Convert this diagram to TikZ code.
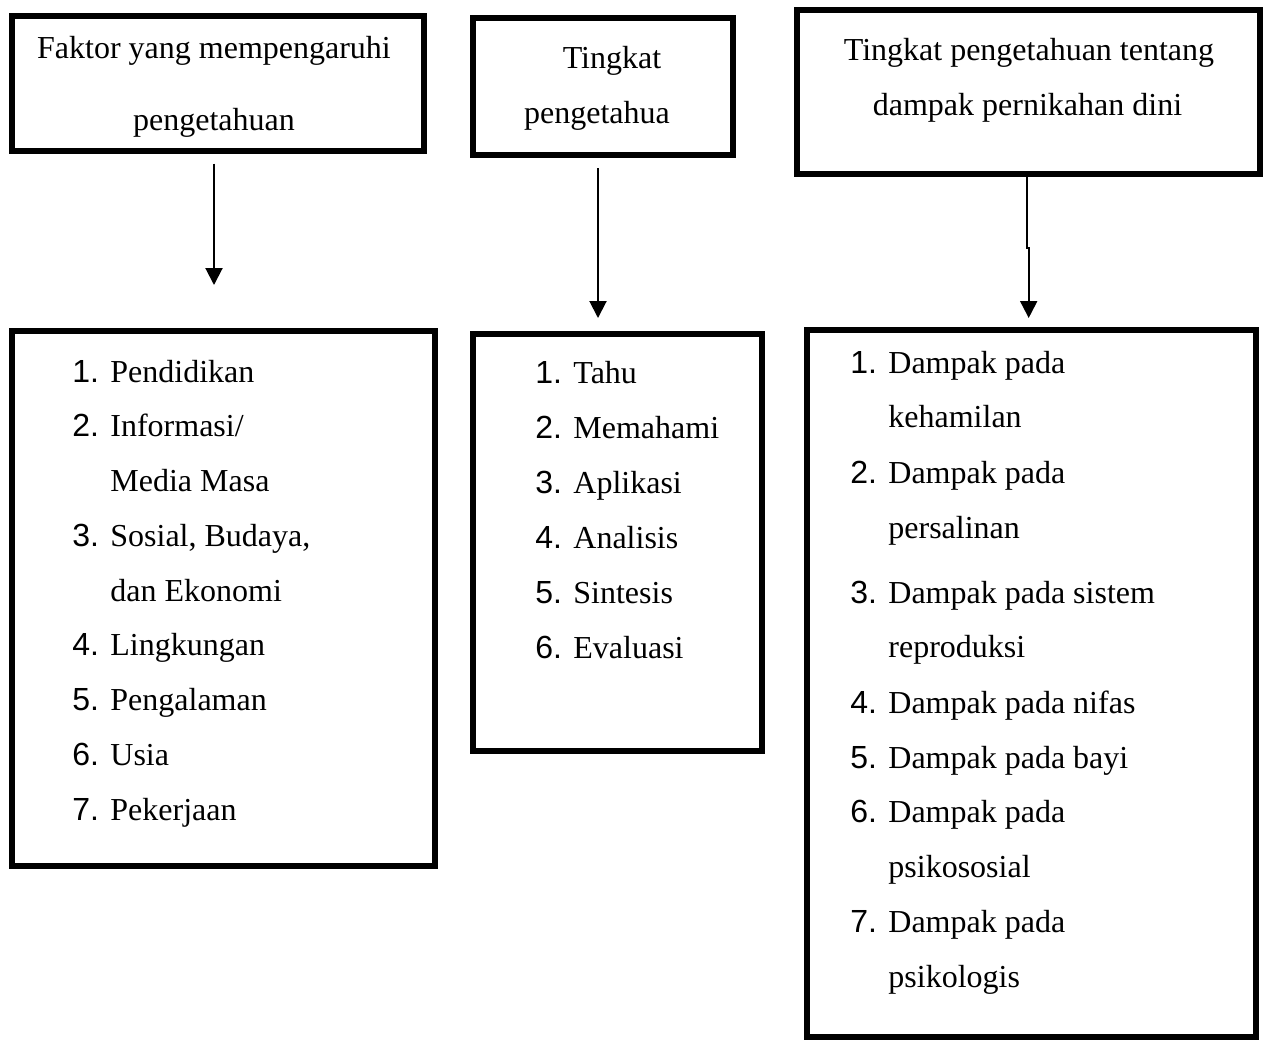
\documentclass[tikz,border=0pt]{standalone}
\usepackage{fontspec}
\setmainfont{Liberation Serif}
\newfontfamily\numfont{Liberation Sans}
\usetikzlibrary{arrows.meta}
\begin{document}
\begin{tikzpicture}[x=0.5pt,y=-0.5pt,
  box/.style={draw=black,line width=3pt,rectangle,inner sep=0pt,fill=white},
  ttl/.style={anchor=base,inner sep=0pt,font=\fontsize{16}{19}\selectfont},
  num/.style={anchor=base west,inner sep=0pt,font=\fontsize{16}{19}\selectfont\numfont},
  itm/.style={anchor=base west,inner sep=0pt,font=\fontsize{16}{19}\selectfont},
  arr/.style={line width=1pt,-{Triangle[length=8.5pt,width=8.5pt]}}]
\useasboundingbox (0,0) rectangle (1263,1041);
% boxes
\node[box,minimum width=412*0.5pt,minimum height=135*0.5pt] (a1) at (217.5,83) {};
\node[box,minimum width=260*0.5pt,minimum height=137*0.5pt] (b1) at (603,86.5) {};
\node[box,minimum width=462.5*0.5pt,minimum height=164.5*0.5pt] (c1) at (1028.25,91.75) {};
\node[box,minimum width=423.5*0.5pt,minimum height=535*0.5pt] (a2) at (223.25,598.5) {};
\node[box,minimum width=289*0.5pt,minimum height=417*0.5pt] (b2) at (617.5,542.5) {};
\node[box,minimum width=449*0.5pt,minimum height=707*0.5pt] (c2) at (1031.5,683.5) {};
% titles
\node[ttl] (a1l1) at (214,58) {Faktor yang mempengaruhi};
\node[ttl] (a1l2) at (214,130) {pengetahuan};
\node[ttl] (b1l1) at (612,68) {Tingkat};
\node[ttl] (b1l2) at (597,123) {pengetahua};
\node[ttl] (c1l1) at (1029,60) {Tingkat pengetahuan tentang};
\node[ttl] (c1l2) at (1027.5,115) {dampak pernikahan dini};
% list A
\node[num] (an1) at (72,382) {1.};   \node[itm] (at1) at (110,382) {Pendidikan};
\node[num] (an2) at (72,436.75) {2.}; \node[itm] (at2) at (110,436.75) {Informasi/};
\node[itm] (at2b) at (110,491.5) {Media Masa};
\node[num] (an3) at (72,546.25) {3.}; \node[itm] (at3) at (110,546.25) {Sosial, Budaya,};
\node[itm] (at3b) at (110,601) {dan Ekonomi};
\node[num] (an4) at (72,655.75) {4.}; \node[itm] (at4) at (110,655.75) {Lingkungan};
\node[num] (an5) at (72,710.5) {5.}; \node[itm] (at5) at (110,710.5) {Pengalaman};
\node[num] (an6) at (72,765.25) {6.}; \node[itm] (at6) at (110,765.25) {Usia};
\node[num] (an7) at (72,820) {7.}; \node[itm] (at7) at (110,820) {Pekerjaan};
% list B
\node[num] (bn1) at (535,383) {1.}; \node[itm] (bt1) at (573,383) {Tahu};
\node[num] (bn2) at (535,438) {2.}; \node[itm] (bt2) at (573,438) {Memahami};
\node[num] (bn3) at (535,493) {3.}; \node[itm] (bt3) at (573,493) {Aplikasi};
\node[num] (bn4) at (535,548) {4.}; \node[itm] (bt4) at (573,548) {Analisis};
\node[num] (bn5) at (535,603) {5.}; \node[itm] (bt5) at (573,603) {Sintesis};
\node[num] (bn6) at (535,658) {6.}; \node[itm] (bt6) at (573,658) {Evaluasi};
% list C
\node[num] (cn1) at (850,373) {1.}; \node[itm] (ct1) at (888,373) {Dampak pada};
\node[itm] (ct1b) at (888,427) {kehamilan};
\node[num] (cn2) at (850,483) {2.}; \node[itm] (ct2) at (888,483) {Dampak pada};
\node[itm] (ct2b) at (888,538) {persalinan};
\node[num] (cn3) at (850,603) {3.}; \node[itm] (ct3) at (888,603) {Dampak pada sistem};
\node[itm] (ct3b) at (888,657) {reproduksi};
\node[num] (cn4) at (850,713) {4.}; \node[itm] (ct4) at (888,713) {Dampak pada nifas};
\node[num] (cn5) at (850,768) {5.}; \node[itm] (ct5) at (888,768) {Dampak pada bayi};
\node[num] (cn6) at (850,822) {6.}; \node[itm] (ct6) at (888,822) {Dampak pada};
\node[itm] (ct6b) at (888,877) {psikososial};
\node[num] (cn7) at (850,932) {7.}; \node[itm] (ct7) at (888,932) {Dampak pada};
\node[itm] (ct7b) at (888,987) {psikologis};
% arrows
\coordinate (ax) at (214,0);
\coordinate (bx) at (598,0);
\coordinate (cj1) at (1027.3,248);
\coordinate (cj2) at (1028.7,248);
\draw[arr,shorten <=5pt,shorten >=21.5pt] (a1.south -| ax) -- (a2.north -| ax);
\draw[arr,shorten <=5pt,shorten >=6.5pt] (b1.south -| bx) -- (b2.north -| bx);
\draw[arr,shorten >=4.5pt] (c1.south -| cj1) -- (cj1) -- (cj2) -- (c2.north -| cj2);
\end{tikzpicture}
\end{document}
